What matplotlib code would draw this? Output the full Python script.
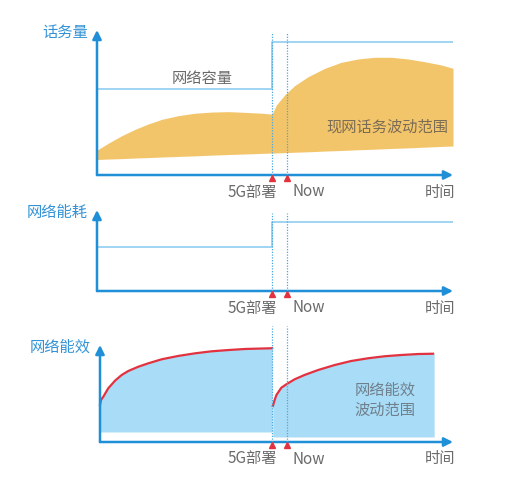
import matplotlib
matplotlib.use("Agg")
import matplotlib.pyplot as plt

plt.rcParams['font.family'] = ['Noto Sans CJK SC', 'DejaVu Sans']

# colours
AXIS = '#1f8fd8'
LIGHT = '#9fd4f2'
ORANGE = '#f3c56b'
SKY = '#a9dcf6'
RED = '#e2323f'
GREY = '#6a6a6a'

# time axis: 0..100, events
t_5g = 49.2
t_now = 53.4
tick_labels = ['5G部署', 'Now', '时间']

# panel 1: traffic range and network capacity
traffic_t = [0, 0.37, 3.17, 6.94, 10.7, 14.4, 18.2, 22.8, 27.5, 32.2, 36.9, 41.6, 46.3, 48.6,
             49.2, 50.4, 52.7, 55.5, 59.3, 64.0, 68.6, 73.3, 78.0, 82.7, 87.4, 92.1, 96.7, 100]
traffic_hi = [17.4, 17.7, 21.9, 27.1, 31.5, 35.2, 38.4, 40.9, 42.6, 43.4, 43.7, 43.2, 42.6, 42.1,
              42.1, 48.3, 55.2, 61.6, 67.8, 73.6, 77.7, 80.0, 81.2, 81.2, 80.0, 78.1, 75.9, 73.6]
traffic_lo = [10.7, 10.7, 11.0, 11.3, 11.7, 12.0, 12.4, 12.8, 13.2, 13.7, 14.1, 14.5, 14.9, 15.1,
              15.1, 15.2, 15.4, 15.7, 16.0, 16.5, 16.9, 17.4, 17.8, 18.3, 18.7, 19.2, 19.7, 20.0]
capacity_t = [0, 49.2, 49.2, 100]
capacity = [59.3, 59.3, 91.7, 91.7]

# panel 2: network energy consumption
energy_t = [0, 49.2, 49.2, 100]
energy = [54.3, 54.3, 85.2, 85.2]

# panel 3: network energy efficiency, two segments
eff1_t = [0.84, 1.12, 1.77, 3.17, 5.06, 6.94, 8.79, 11.6, 14.4, 18.2, 22.8, 27.5, 32.2,
          36.9, 41.6, 48.6, 49.2]
eff1 = [38.1, 43.3, 46.7, 55.4, 63.2, 69.1, 73.2, 77.6, 81.1, 85.3, 88.7, 91.4, 93.5,
        94.8, 95.9, 96.6, 96.7]
eff1_lo = 10.3
eff2_t = [49.4, 49.9, 50.4, 51.8, 53.2, 55.5, 58.3, 62.1, 66.8, 71.4, 76.1, 80.8, 85.5,
          90.2, 94.4]
eff2 = [37.1, 43.3, 48.5, 56.0, 59.5, 64.6, 69.1, 74.2, 79.4, 83.5, 86.3, 88.4, 89.7,
        90.7, 91.0]
eff2_lo = 5.2
eff2_end = 94.7

fig = plt.figure(figsize=(5.19, 5.0), dpi=100)
left, width = 97 / 519, 356 / 519
ax1 = fig.add_axes([left, 0.650, width, 0.290])
ax2 = fig.add_axes([left, 0.418, width, 0.162])
ax3 = fig.add_axes([left, 0.116, width, 0.194])


def frame(ax, ylabel, x0, ytop, vtop):
    ax.set_xlim(0, 100)
    ax.set_ylim(0, 100)
    ax.axis('off')
    arrow = dict(arrowstyle='-|>', color=AXIS, lw=1.8, mutation_scale=13, shrinkA=0, shrinkB=0)
    ax.annotate('', xy=(100, 0), xytext=(x0, 0), arrowprops=arrow, annotation_clip=False)
    ax.annotate('', xy=(x0, ytop), xytext=(x0, 0), arrowprops=arrow, annotation_clip=False)
    ax.annotate(ylabel, xy=(x0, ytop), xytext=(-9, -2), textcoords='offset pixels',
                ha='right', va='center', color='#3393d6', fontsize=11, annotation_clip=False)
    # event markers
    for t in (t_5g, t_now):
        ax.plot([t, t], [0, vtop], ls=(0, (1, 1.2)), color='#4aa8e0', lw=0.9, clip_on=False, zorder=4)
        ax.plot(t, -2.5 * 100 / ax.bbox.height, marker='^', color=RED, ms=4.5,
                clip_on=False, zorder=5)
    ax.annotate(tick_labels[0], xy=(t_5g, 0), xytext=(5, -17), textcoords='offset pixels',
                ha='right', va='center', color=GREY, fontsize=11, annotation_clip=False)
    ax.annotate(tick_labels[1], xy=(t_now, 0), xytext=(5, -17), textcoords='offset pixels',
                ha='left', va='center', color=GREY, fontsize=11, annotation_clip=False)
    ax.annotate(tick_labels[2], xy=(100, 0), xytext=(2, -17), textcoords='offset pixels',
                ha='right', va='center', color=GREY, fontsize=11, annotation_clip=False)


# panel 1
ax1.fill_between(traffic_t, traffic_lo, traffic_hi, color=ORANGE, lw=0, zorder=1)
ax1.plot(capacity_t, capacity, color=LIGHT, lw=1.4, zorder=2)
ax1.text(29.5, 66.5, '网络容量', ha='center', va='center', color=GREY, fontsize=11)
ax1.text(81.5, 33, '现网话务波动范围', ha='center', va='center', color='#7a6c55', fontsize=11)
frame(ax1, '话务量', 0, 100, 98)

# panel 2
ax2.plot(energy_t, energy, color=LIGHT, lw=1.4, zorder=2)
frame(ax2, '网络能耗', 0, 100, 96)

# panel 3
ax3.fill_between(eff1_t, eff1_lo, eff1, color=SKY, lw=0, zorder=1)
ax3.fill_between(eff2_t + [eff2_end], eff2_lo, eff2 + [eff2[-1]], color=SKY, lw=0, zorder=1)
ax3.plot(eff1_t, eff1, color=RED, lw=1.6, zorder=3)
ax3.plot(eff2_t, eff2, color=RED, lw=1.6, zorder=3)
ax3.text(81, 43, '网络能效\n波动范围', ha='center', va='center', color='#6f7f8c',
         fontsize=11, linespacing=1.2)
frame(ax3, '网络能效', 0.84, 100, 120)

fig.savefig('out.png', dpi=100)
